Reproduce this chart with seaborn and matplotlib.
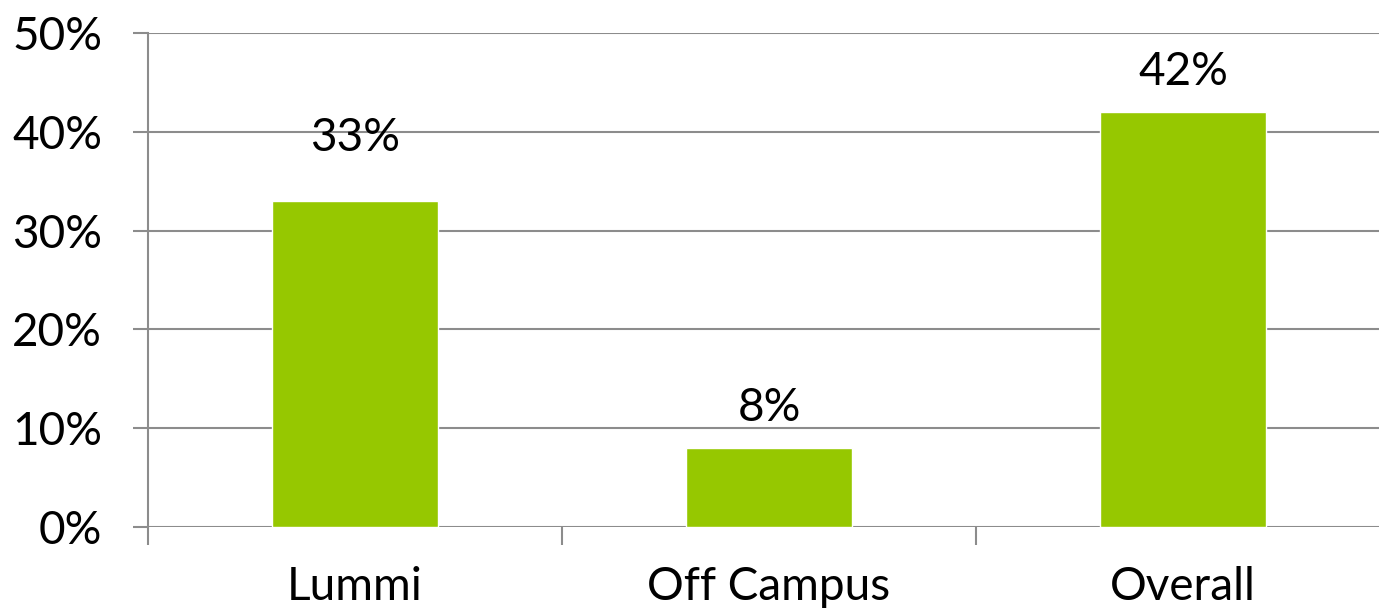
import matplotlib
matplotlib.use("Agg")
import matplotlib.pyplot as plt
import seaborn as sns
from matplotlib.ticker import PercentFormatter, FixedLocator

categories = ["Lummi", "Off Campus", "Overall"]
values = [33, 8, 42]
y_ticks = [0, 10, 20, 30, 40, 50]

sns.set_style("white")
plt.rcParams["font.family"] = ["Lato", "DejaVu Sans"]
plt.rcParams["text.color"] = "black"
plt.rcParams["xtick.labelcolor"] = "black"
plt.rcParams["ytick.labelcolor"] = "black"

grid_color = "#8c8c8c"
bar_color = "#96c800"
fs = 33

fig = plt.figure(figsize=(13.79, 6.15), dpi=100)
ax = fig.add_axes([148 / 1379, 88 / 615, 1242 / 1379, 494 / 615])

sns.barplot(x=categories, y=values, color=bar_color, saturation=1,
            width=0.4, ax=ax, zorder=3)

ax.set_ylim(0, 50)
ax.set_xlim(-0.5, 2.5)
ax.set_yticks(y_ticks)
ax.yaxis.set_major_formatter(PercentFormatter(decimals=0))
ax.grid(axis="y", color=grid_color, linewidth=1.5, zorder=0)
ax.set_axisbelow(True)

for side in ["top", "right", "bottom"]:
    ax.spines[side].set_visible(False)
ax.spines["left"].set_color(grid_color)
ax.spines["left"].set_linewidth(1.5)

ax.tick_params(axis="y", length=11, width=1.5, color=grid_color,
               labelsize=fs, pad=22, direction="out", left=True,
               labelcolor="black")
ax.tick_params(axis="x", length=0, labelsize=fs, pad=28, labelcolor="black")
ax.xaxis.set_minor_locator(FixedLocator([-0.5, 0.5, 1.5, 2.5]))
ax.tick_params(axis="x", which="minor", length=13, width=1.5,
               color=grid_color, direction="out", bottom=True)

# value labels above bars
label_offsets = [30, 14, 14]
for i, (v, off) in enumerate(zip(values, label_offsets)):
    ax.annotate(f"{v}%", (i, v), xytext=(0, off), textcoords="offset points",
                ha="center", va="bottom", fontsize=fs, color="black")

ax.set_xlabel("")
ax.set_ylabel("")
fig.savefig("out.png", dpi=100)
